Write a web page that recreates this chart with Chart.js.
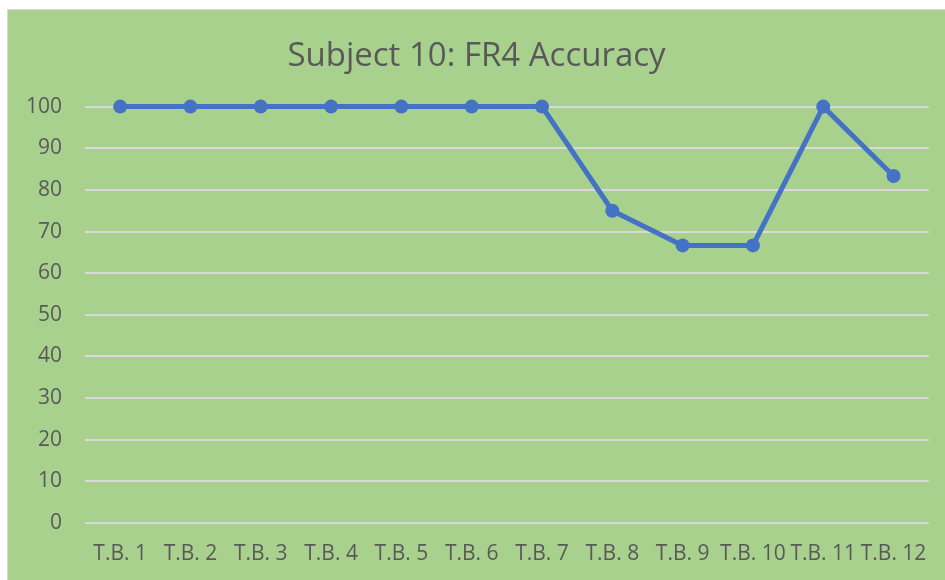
<!DOCTYPE html>
<html>
<head>
<meta charset="utf-8">
<script src="https://cdn.jsdelivr.net/npm/chart.js@4/dist/chart.umd.min.js"></script>
<style>
    html, body { margin: 0; padding: 0; background: #ffffff; overflow: hidden; }
    #frame {
        position: absolute;
        left: 7px;
        top: 9px;
        width: 945px;
        height: 580px;
        border: 1px solid #d9d9d9;
        background: #a9d18e;
    }
    #wrap { position: absolute; left: 0; top: 0; width: 937px; height: 570px; }
</style>
</head>
<body>
<div id="frame">
    <div id="wrap"><canvas id="accuracy-chart"></canvas></div>
</div>
<script>
const categories = ['T.B. 1', 'T.B. 2', 'T.B. 3', 'T.B. 4', 'T.B. 5', 'T.B. 6', 'T.B. 7', 'T.B. 8', 'T.B. 9', 'T.B. 10', 'T.B. 11', 'T.B. 12'];
const accuracy = [100, 100, 100, 100, 100, 100, 100, 75, 66.67, 66.67, 100, 83.33];
const yTicks = [0, 10, 20, 30, 40, 50, 60, 70, 80, 90, 100];

const textColor = '#595959';
const tickFont = { family: '"Open Sans", sans-serif', size: 21 };

new Chart(document.getElementById('accuracy-chart'), {
    type: 'line',
    data: {
        labels: categories,
        datasets: [
            {
                label: 'Accuracy',
                data: accuracy,
                borderColor: '#4472c4',
                backgroundColor: '#4472c4',
                borderWidth: 5,
                pointRadius: 7,
                pointBorderWidth: 0,
                tension: 0,
                fill: false,
                clip: false,
            },
        ],
    },
    options: {
        responsive: true,
        maintainAspectRatio: false,
        animation: false,
        layout: { padding: { left: 15, right: 15, top: 0, bottom: 0 } },
        plugins: {
            legend: { display: false },
            tooltip: { enabled: false },
            title: {
                display: true,
                text: 'Subject 10: FR4 Accuracy',
                color: textColor,
                font: { family: '"Open Sans", sans-serif', size: 33, weight: 'normal', lineHeight: 1.2 },
                padding: { top: 27, bottom: 30 },
            },
        },
        scales: {
            x: {
                offset: true,
                border: { display: false },
                grid: { display: false, drawTicks: false },
                ticks: { color: textColor, font: tickFont, padding: 18, autoSkip: false, maxRotation: 0 },
                afterFit: (scale) => { scale.height = 57; },
            },
            y: {
                min: yTicks[0],
                max: yTicks[yTicks.length - 1],
                border: { display: false },
                grid: { color: '#d9d9d9', lineWidth: 2, drawTicks: false },
                afterBuildTicks: (scale) => { scale.ticks = yTicks.map((v) => ({ value: v })); },
                ticks: { color: textColor, font: tickFont, padding: 23 },
                afterFit: (scale) => { scale.width = 62; },
            },
        },
    },
});
</script>
</body>
</html>
